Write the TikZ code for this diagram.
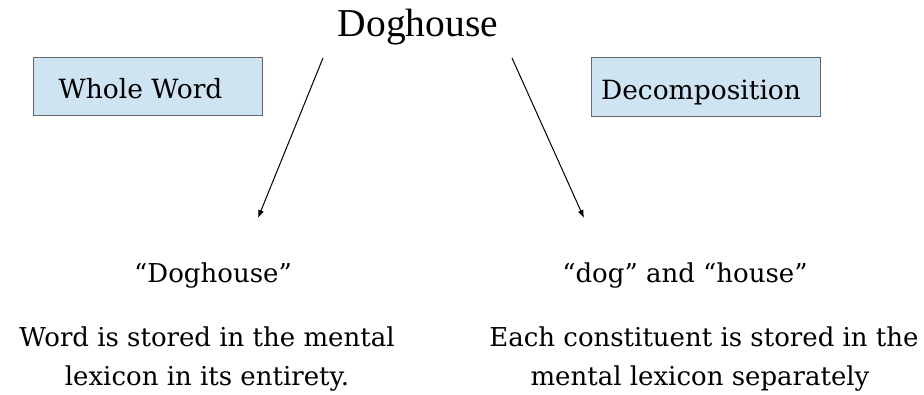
\documentclass[tikz,border=0pt]{standalone}
\usepackage{fontspec}
\usetikzlibrary{arrows.meta}
\setmainfont{DejaVu Serif}
\newfontfamily\titlefont{Liberation Serif}
\newfontfamily\bodyfont{DejaVu Serif}
\begin{document}
\begin{tikzpicture}[x=1pt,y=-1pt,
  labelbox/.style={draw=gray!80!black, fill={rgb,255:red,206;green,228;blue,243}, line width=1pt, inner sep=0pt},
  boxtext/.style={anchor=base, font=\fontsize{26.5}{30}\selectfont, inner sep=0pt},
  bodytext/.style={font=\bodyfont\fontsize{26}{38}\selectfont, align=center, inner sep=0pt},
  arr/.style={-{Latex[length=8pt,width=6pt]}, line width=1pt}]
\useasboundingbox (0,0) rectangle (924,395);
\node[font=\titlefont\fontsize{39.5}{42}\selectfont, anchor=base, inner sep=0pt] (top) at (418,37) {Doghouse};
\node[labelbox, minimum width=229pt, minimum height=58pt] (ww) at (147.5,87) {};
\node[boxtext] (wwt) at (140.5,99) {Whole Word};
\node[labelbox, minimum width=229pt, minimum height=59pt] (dc) at (705.5,87.5) {};
\node[boxtext] (dct) at (701,100) {Decomposition};
\coordinate (a1s) at (323,58);
\coordinate (a1e) at (258,218);
\coordinate (a2s) at (512,58);
\coordinate (a2e) at (584,218);
\draw[arr] (a1s) -- (a1e);
\draw[arr] (a2s) -- (a2e);
\node[bodytext, anchor=base] (lq) at (213,283) {“Doghouse”};
\node[bodytext, anchor=base] (l1) at (207,347) {Word is stored in the mental};
\node[bodytext, anchor=base] (l2) at (207,385) {lexicon in its entirety.};
\node[bodytext, anchor=base] (rq) at (685,283) {“dog” and “house”};
\node[bodytext, anchor=base] (r1) at (704,347) {Each constituent is stored in the};
\node[bodytext, anchor=base] (r2) at (700,385) {mental lexicon separately};
\end{tikzpicture}
\end{document}
